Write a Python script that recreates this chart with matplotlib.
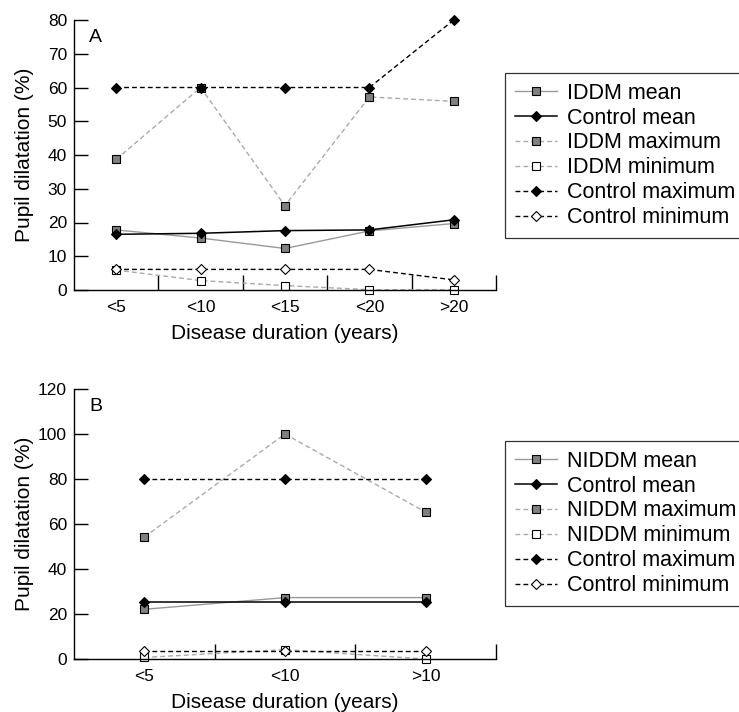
import matplotlib
matplotlib.use("Agg")
import matplotlib.pyplot as plt

plt.rcParams['font.family'] = ['Liberation Sans', 'DejaVu Sans']

# Panel A: IDDM
cats_a = ['<5', '<10', '<15', '<20', '>20']
iddm_mean = [17.8, 15.4, 12.3, 17.5, 19.7]
ctrl_mean_a = [16.5, 16.8, 17.6, 17.8, 20.8]
iddm_max = [38.7, 60.0, 25.0, 57.2, 55.9]
iddm_min = [5.9, 2.8, 1.3, 0.1, 0.1]
ctrl_max_a = [60, 60, 60, 60, 80]
ctrl_min_a = [6.1, 6.1, 6.1, 6.1, 3.0]

# Panel B: NIDDM
cats_b = ['<5', '<10', '>10']
niddm_mean = [22.1, 27.3, 27.3]
ctrl_mean_b = [25.5, 25.5, 25.5]
niddm_max = [54.2, 100.0, 65.3]
niddm_min = [0.7, 4.2, 0.0]
ctrl_max_b = [80, 80, 80]
ctrl_min_b = [3.6, 3.6, 3.6]

DASH = (3.5, 2.2)


def draw_panel(ax, cats, mean, cmean, mx, mn, cmx, cmn, group, ymax, ystep, letter):
    x = list(range(len(cats)))
    sq = dict(marker='s', ms=5.5, mew=0.8, mec='black', clip_on=False)
    dm = dict(marker='D', ms=4.8, mew=0.8, mec='black', clip_on=False)
    ax.plot(x, mean, color='#999999', lw=1.0, mfc='#808080', label=group + ' mean', **sq)
    ax.plot(x, cmean, color='black', lw=1.1, mfc='black', label='Control mean', **dm)
    ax.plot(x, mx, color='#aaaaaa', lw=1.0, dashes=DASH, mfc='#808080',
            label=group + ' maximum', **sq)
    ax.plot(x, mn, color='#aaaaaa', lw=1.0, dashes=DASH, mfc='white',
            label=group + ' minimum', **sq)
    ax.plot(x, cmx, color='black', lw=1.0, dashes=DASH, mfc='black',
            label='Control maximum', **dm)
    ax.plot(x, cmn, color='black', lw=1.0, dashes=DASH, mfc='white',
            label='Control minimum', **dm)

    n = len(cats)
    ax.set_xlim(-0.5, n - 0.5)
    ax.set_ylim(0, ymax)
    ax.spines['top'].set_visible(False)
    ax.spines['right'].set_visible(False)
    for s in ['left', 'bottom']:
        ax.spines[s].set_linewidth(1.0)

    # boundary ticks (unlabelled) and category labels (no tick mark)
    ax.set_xticks([i + 0.5 for i in range(n)])
    ax.set_xticklabels([])
    ax.set_xticks(x, minor=True)
    ax.set_xticklabels(cats, minor=True)
    ax.tick_params(axis='x', which='major', direction='in', length=11, width=1.0)
    ax.tick_params(axis='x', which='minor', length=0, pad=7, labelsize=12.5)
    ax.set_yticks(range(0, ymax + 1, ystep))
    ax.tick_params(axis='y', direction='in', length=10, width=1.0, pad=5, labelsize=12.5)

    ax.set_xlabel('Disease duration (years)', fontsize=15, labelpad=7)
    ax.set_ylabel('Pupil dilatation (%)', fontsize=15)
    ax.yaxis.set_label_coords(-0.095, 0.5)
    ax.text(0.036, 0.965, letter, transform=ax.transAxes, fontsize=14,
            ha='left', va='top')


fig = plt.figure(figsize=(7.39, 7.12), dpi=100)
ax_a = fig.add_axes([0.1001, 0.5927, 0.571, 0.3792])
ax_b = fig.add_axes([0.1001, 0.0744, 0.571, 0.3792])

draw_panel(ax_a, cats_a, iddm_mean, ctrl_mean_a, iddm_max, iddm_min,
           ctrl_max_a, ctrl_min_a, 'IDDM', 80, 10, 'A')
draw_panel(ax_b, cats_b, niddm_mean, ctrl_mean_b, niddm_max, niddm_min,
           ctrl_max_b, ctrl_min_b, 'NIDDM', 120, 20, 'B')

for ax, top in [(ax_a, 73), (ax_b, 441)]:
    leg = ax.legend(loc='upper left', bbox_to_anchor=(505 / 739, 1 - top / 712),
                    bbox_transform=fig.transFigure, fontsize=15.5, frameon=True,
                    fancybox=False, handlelength=1.95, handletextpad=0.5,
                    labelspacing=0.18, borderpad=0.45, borderaxespad=0)
    leg.get_frame().set_edgecolor('black')
    leg.get_frame().set_linewidth(0.9)

fig.savefig('out.png', dpi=100)
